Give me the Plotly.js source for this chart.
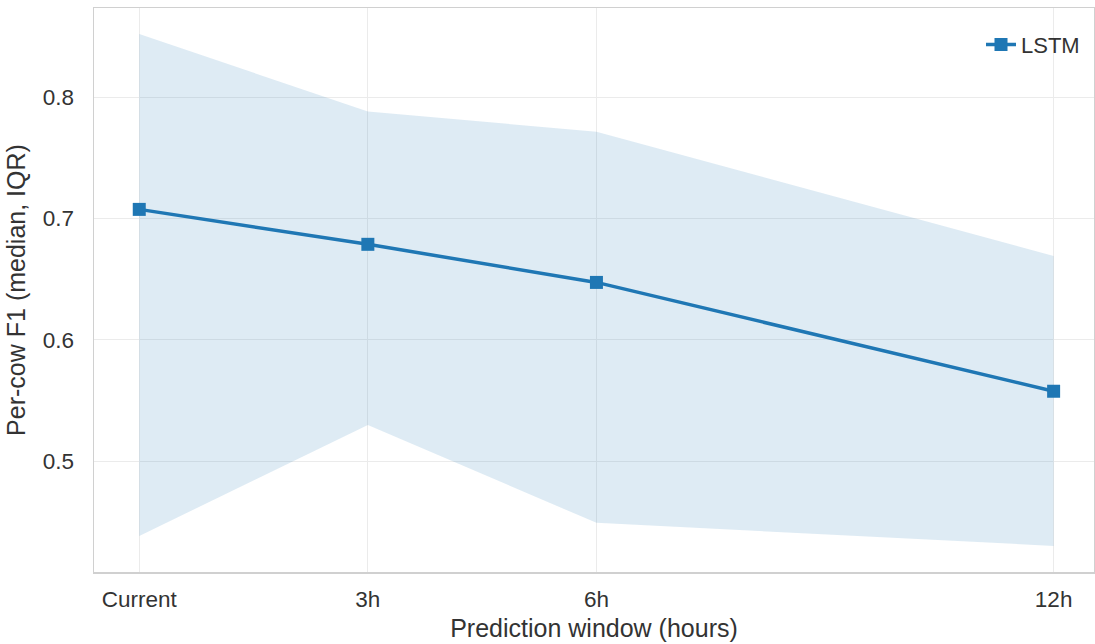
<!DOCTYPE html>
<html>
<head>
<meta charset="utf-8">
<script src="https://cdn.plot.ly/plotly-3.0.1.min.js"></script>
<style>html,body{margin:0;padding:0;background:#fff;}#chart{width:1095px;height:644px;}</style>
</head>
<body>
<div id="chart"></div>
<script>
const hours = [0, 3, 6, 12];
const tickLabels = ["Current", "3h", "6h", "12h"];
const medianF1 = [0.7074, 0.6786, 0.6472, 0.5575];
const q1F1 = [0.4382, 0.5297, 0.4490, 0.4300];
const q3F1 = [0.8520, 0.7880, 0.7714, 0.6690];

const blue = "#1f77b4";
const font = "Liberation Sans, Arial, sans-serif";

const traces = [
  {x: hours, y: q1F1, mode: "lines", line: {width: 0, color: blue}, showlegend: false, hoverinfo: "skip"},
  {x: hours, y: q3F1, mode: "lines", line: {width: 0, color: blue}, fill: "tonexty",
   fillcolor: "rgba(31,119,180,0.15)", showlegend: false, hoverinfo: "skip"},
  {x: hours, y: medianF1, mode: "lines+markers", name: "LSTM",
   line: {color: blue, width: 3.5}, marker: {symbol: "square", size: 13, color: blue}}
];

const layout = {
  width: 1095, height: 644,
  margin: {l: 94, r: 1, t: 8, b: 72},
  paper_bgcolor: "#fff", plot_bgcolor: "#fff",
  font: {family: font, size: 22, color: "#333"},
  xaxis: {
    range: [-0.594, 12.53], tickvals: hours, ticktext: tickLabels,
    showgrid: true, gridcolor: "#ebebeb", gridwidth: 1, zeroline: false,
    showline: true, linecolor: "#d0d0d0", linewidth: 1.5, mirror: true,
    ticks: "", ticklabelstandoff: 6,
    tickfont: {size: 22.5, color: "#333"},
    title: {text: "Prediction window (hours)", font: {size: 25, color: "#333"}, standoff: 9}
  },
  yaxis: {
    range: [0.4085, 0.8734], tickvals: [0.5, 0.6, 0.7, 0.8], ticktext: ["0.5", "0.6", "0.7", "0.8"],
    showgrid: true, gridcolor: "#ebebeb", gridwidth: 1, zeroline: false,
    showline: true, linecolor: "#d0d0d0", linewidth: 1.5, mirror: true,
    ticks: "", ticklabelstandoff: 14,
    tickfont: {size: 22.5, color: "#333"},
    title: {text: "Per-cow F1 (median, IQR)", font: {size: 25, color: "#333"}, standoff: 10}
  },
  legend: {x: 0.991, y: 0.972, xanchor: "right", yanchor: "top", bgcolor: "rgba(255,255,255,0)",
    font: {size: 22, color: "#333"}},
  showlegend: true
};

Plotly.newPlot("chart", traces, layout, {displayModeBar: false, staticPlot: true});
</script>
</body>
</html>
